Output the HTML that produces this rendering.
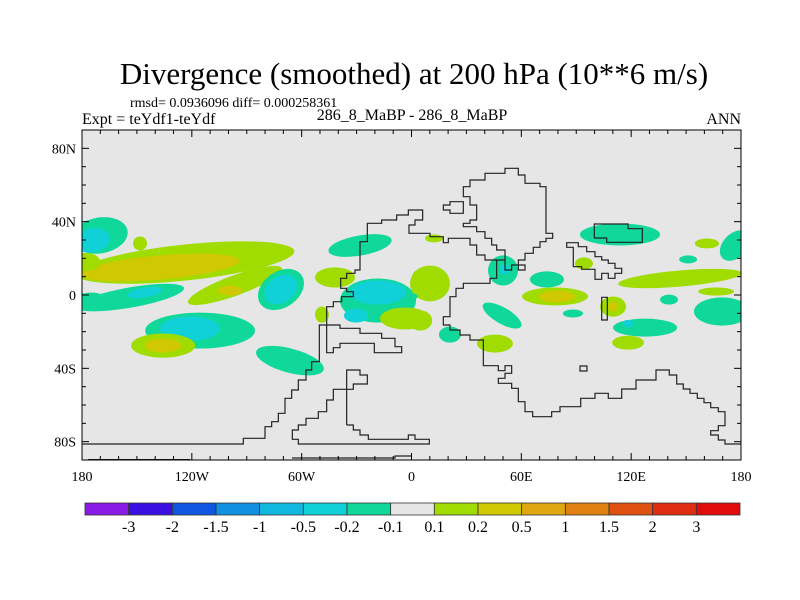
<!DOCTYPE html>
<html><head><meta charset="utf-8"><style>
body{margin:0;background:#fff;width:800px;height:600px;overflow:hidden}
svg{display:block}
text{font-family:"Liberation Serif",serif;fill:#000}
</style></head><body>
<svg id="chart" width="800" height="600" viewBox="0 0 800 600">
<text x="414" y="84" font-size="31" text-anchor="middle">Divergence (smoothed) at 200 hPa (10**6 m/s)</text>
<text x="130" y="107" font-size="14">rmsd= 0.0936096 diff= 0.000258361</text>
<text x="82" y="124" font-size="16">Expt = teYdf1-teYdf</text>
<text x="412" y="120" font-size="16" text-anchor="middle">286_8_MaBP - 286_8_MaBP</text>
<text x="741" y="124" font-size="16" text-anchor="end">ANN</text>
<defs><clipPath id="pc"><rect x="82" y="130" width="659" height="330"/></clipPath></defs>
<rect x="82" y="130" width="659" height="330" fill="#e6e6e6"/>
<g id="blobs" clip-path="url(#pc)"></g>
<g clip-path="url(#pc)" fill="none" stroke="#222" stroke-width="1.2">
<g transform="translate(230,160) scale(0.33333)">
<path vector-effect="non-scaling-stroke" d="M-444,852 L40,852 40,835 105,835 105,800 125,800 125,785 145,785 145,760 165,760 165,715 185,715 185,690 205,690 205,660 228,660 228,630 245,630 245,605 268,605 268,495 330,495 330,505 390,505 390,520 455,520 455,535 495,535 495,560 515,560 515,578 433,578 433,550 330,550 330,563 310,563 310,578 290,578 290,440 310,440 310,425 335,425 335,410 370,410 370,395 350,395 350,385 332,385 332,355 350,355 350,340 375,340 375,330 390,330 390,245 412,245 412,190 455,190 455,180 500,180 500,165 535,165 535,150 578,150 578,180 555,180 555,195 537,195 537,220 600,220 600,230 640,230 640,248 655,248 655,235 720,235 720,255 740,255 740,285 765,285 765,300 800,300 800,355 780,355 780,370 700,370 700,385 678,385 678,410 660,410 660,470 640,470 640,495 660,495 660,510 690,510 690,525 720,525 720,540 760,540 760,617 805,617 805,632 825,632 825,617 845,617 845,640 825,640 825,655 805,655 805,670 845,670 845,685 865,685 865,725 885,725 885,755 908,755 908,770 965,770 965,755 990,755 990,740 1020,740"/>
<path vector-effect="non-scaling-stroke" d="M800,300 L825,300 825,330 845,330 845,315 865,315 865,330 885,330 885,315 865,315 865,300 885,300 885,280 910,280 910,262 930,262 930,245 948,245 948,235 968,235 968,220 948,220 948,80 930,80 930,70 885,70 885,45 865,45 865,25 825,25 825,40 765,40 765,60 720,60 720,80 700,80 700,110 720,110 720,135 740,135 740,180 720,180 720,190 700,190 700,200 740,200 740,215 765,215 765,235 785,235 785,255 800,255 800,270 825,270 825,300"/>
<path vector-effect="non-scaling-stroke" d="M640,135 L660,135 660,125 700,125 700,160 660,160 660,150 640,150Z"/>
<path vector-effect="non-scaling-stroke" d="M350,795 L350,630 390,630 390,645 412,645 412,672 370,672 370,688 310,688 310,720 290,720 290,755 265,755 265,775 228,775 228,795 205,795 205,810 187,810 187,838 205,838 205,852 598,852 598,838 555,838 555,825 535,825 535,838 415,838 415,825 390,825 390,810 370,810 370,795 350,795"/>
</g>
<path d="M570,406.7 L580.7,406.7 580.7,398.3 595,398.3 595,393.3 608.3,393.3 608.3,398.3 621.7,398.3 621.7,389 636,389 636,380 656,380 656,370 669.3,370 669.3,375 676.7,375 676.7,384 683.3,384 683.3,389 690,389 690,393.3 697.3,393.3 697.3,398.3 704,398.3 704,402.7 710.7,402.7 710.7,407.7 718.3,407.7 718.3,411.7 725,411.7 725,425.7 718.3,425.7 718.3,430.7 710.7,430.7 710.7,435 718.3,435 718.3,440 725,440 725,444 741.7,444"/>
<path d="M580,366 h7 v5 h-7Z"/>
<path d="M566.7,242.7 L578.3,242.7 578.3,246.7 586.7,246.7 586.7,251.7 595,251.7 595,256.7 601.7,256.7 601.7,260 608.3,260 608.3,263.3 615,263.3 615,268.3 621.7,268.3 621.7,273.3 615,273.3 615,278.3 608.3,278.3 608.3,273.3 601.7,273.3 601.7,279.3 595,279.3 595,269.3 581.7,269.3 581.7,266.7 573.3,266.7 573.3,247.3 566.7,247.3Z"/>
<path d="M594.3,224 L628,224 628,228.7 642.3,228.7 642.3,242.3 606.7,242.3 606.7,238 594.3,238Z"/>
<path d="M601.7,297.3 h5.6 v22.7 h-5.6Z"/>
<path d="M292,458 L395,458 395,456 412,456"/>
<path d="M88,460 L190,460" stroke-width="2"/>
</g>
<g id="axes"></g>
<g id="cbar"></g>
</svg>
<script>
// Contour blobs: lon, lat (centre, degrees), half-width lon, half-height lat, rotation, level index
const blobLon = [-170.2,-174.5,-123.7,-137.4,-148.3,-153.8,-145.6,-96.4,-99.1,-71.3,-71.3,-115.5,-121,-135.7,-135.7,-66.4,-28.1,-41.8,-18.3,-18.3,-30.3,-48.9,-3.5,4.7,12.3,10.1,0.8,4.7,50,51,74,78.4,79.5,49.5,21,45.6,88.2,113.9,94.2,110.1,110.1,127.6,118.3,118.3,146.7,161.4,151.1,176.8,140.7,166.4,169.6,-178,-178];
const blobLat = [32.5,29.8,17.7,15,28.1,-1.4,1.4,5.2,2.5,3,3,-19.4,-18.3,-27.6,-27.6,-35.8,27,9.6,-3,1.4,-11.2,-10.7,-12.8,9.6,30.9,6.3,-0.8,-13.9,13.4,14,8.5,-0.8,-0.8,-11.2,-21.6,-26.5,-10.1,33,17.2,-6.3,-6.3,-17.8,-15.6,-26,9,28.1,19.4,27,-2.5,1.9,-9,18,-3];
const blobRx = [15.3,9.8,60,43.7,3.8,30,9.8,27.3,6.6,13.7,9.8,30,16.4,17.5,9.8,19.1,17.5,10.9,20.8,15.3,6.6,3.8,13.7,4.4,4.9,10.9,2.7,6.6,8.2,2.7,9.3,18,9.8,12,6,9.8,5.5,21.9,4.9,7.1,2.7,17.5,3,8.7,33.9,6.6,4.9,9.8,4.9,9.8,15.3,8,10];
const blobRy = [9.8,6.6,9.8,6.6,3.8,5.5,2.7,5.5,2.7,9.8,7.1,9.8,6.6,6.6,3.8,6.6,5.5,5.5,12,6.6,3.8,4.4,6,4.4,2.2,9.8,1.6,5.5,8.2,2.7,4.4,4.9,3.3,4.4,4.4,4.9,2.2,6,3.3,5.5,2.7,4.9,2,3.8,4.4,2.7,2.2,6.6,2.7,2.2,7.7,5,4];
const blobRot = [-10,-10,-6,-5,0,-10,-10,-20,0,-35,-35,0,0,0,0,15,-10,0,0,0,0,0,0,0,0,0,0,0,0,0,0,0,0,30,0,0,0,0,0,0,0,0,0,0,-5,0,0,-45,0,0,0,0,-10];
const blobLevel = [6,5,8,9,8,6,5,8,9,6,5,6,5,8,9,6,6,8,6,5,5,8,8,8,8,8,6,8,6,5,6,8,9,6,6,8,6,6,8,8,9,6,5,8,8,8,6,6,6,8,6,8,6];
const levelColors = ["#8a1ae6","#3b0fe0","#0f56e0","#0f90e0","#10b8e0","#10d0d8","#10d89a","#e6e6e6","#a0dc00","#d0c800","#e0a810","#e08010","#e05010","#e02c10","#e00c0c"];
const levelLabels = ["-3","-2","-1.5","-1","-0.5","-0.2","-0.1","0.1","0.2","0.5","1","1.5","2","3"];
const xTickVals = [-180,-120,-60,0,60,120,180];
const xTickLabels = ["180","120W","60W","0","60E","120E","180"];
const yTickVals = [80,40,0,-40,-80];
const yTickLabels = ["80N","40N","0","40S","80S"];

const NS="http://www.w3.org/2000/svg";
const X0=82,X1=741,Y0=130,Y1=460;
const xs=lon=>X0+(lon+180)/360*(X1-X0);
const ys=lat=>Y0+(90-lat)/180*(Y1-Y0);
const kx=(X1-X0)/360, ky=(Y1-Y0)/180;
function mk(t,a,p){const e=document.createElementNS(NS,t);for(const k in a)e.setAttribute(k,a[k]);p.appendChild(e);return e;}

const bg=document.getElementById('blobs');
for(let i=0;i<blobLon.length;i++){
  const cx=xs(blobLon[i]),cy=ys(blobLat[i]);
  const e=mk('ellipse',{cx:cx,cy:cy,rx:blobRx[i]*kx,ry:blobRy[i]*ky,fill:levelColors[blobLevel[i]],transform:`rotate(${blobRot[i]} ${cx} ${cy})`},bg);
  
  
}

const ax=document.getElementById('axes');
mk('rect',{x:X0,y:Y0,width:X1-X0,height:Y1-Y0,fill:'none',stroke:'#000','stroke-width':1},ax);
for(let lon=-180;lon<=180;lon+=10){
  const x=xs(lon),L=(lon%60===0)?7:4;
  mk('line',{x1:x,x2:x,y1:Y1,y2:Y1-L,stroke:'#000'},ax);
  mk('line',{x1:x,x2:x,y1:Y0,y2:Y0+L,stroke:'#000'},ax);
}
for(let lat=-90;lat<=90;lat+=10){
  const y=ys(lat),L=(lat%40===0)?7:4;
  mk('line',{x1:X0,x2:X0+L,y1:y,y2:y,stroke:'#000'},ax);
  mk('line',{x1:X1,x2:X1-L,y1:y,y2:y,stroke:'#000'},ax);
}
xTickVals.forEach((v,i)=>{
  const t=mk('text',{x:xs(v),y:481,'font-size':14,'text-anchor':'middle'},ax);t.textContent=xTickLabels[i];
  
  
});
yTickVals.forEach((v,i)=>{
  const t=mk('text',{x:76,y:ys(v)+5,'font-size':14,'text-anchor':'end'},ax);t.textContent=yTickLabels[i];
  
  
});

const cb=document.getElementById('cbar');
const CB0=85,CB1=740,bw=(CB1-CB0)/levelColors.length;
levelColors.forEach((c,i)=>{
  const r=mk('rect',{x:CB0+i*bw,y:503,width:bw,height:12,fill:c,stroke:'#333','stroke-width':0.8},cb);
  
  
});
levelLabels.forEach((l,i)=>{
  const t=mk('text',{x:CB0+(i+1)*bw,y:532,'font-size':16,'text-anchor':'middle'},cb);t.textContent=l;
  
  
});
</script>
</body></html>
